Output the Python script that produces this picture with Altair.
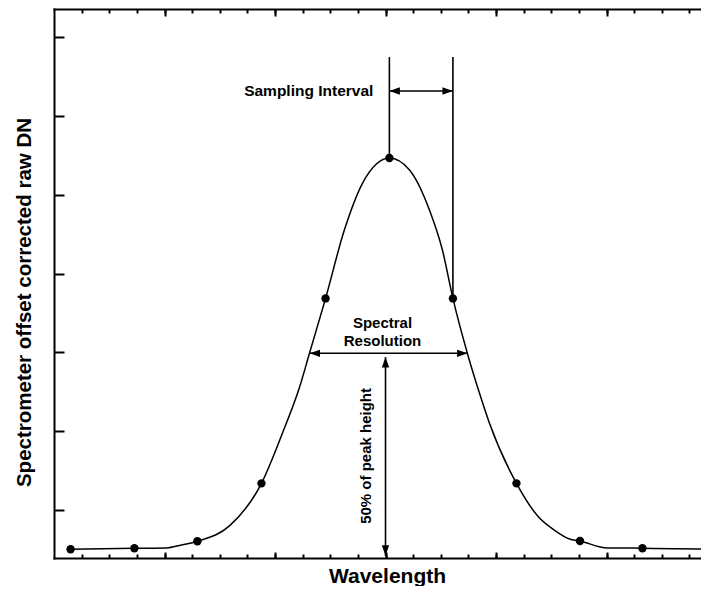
import altair as alt
import pandas as pd

FONT = "Liberation Sans"

# sampled spectrometer channels (dots)
sample_wl = [0.60, 2.91, 5.19, 7.51, 9.83, 12.14, 14.44, 16.74, 19.04, 21.30, 23.62]
sample_dn = [251, 257, 302, 669, 1842, 2733, 1842, 669, 303, 257, 253]

# continuous instrument response (line)
curve_wl = [0.60, 2.91, 4.07, 4.61, 5.19, 6.35, 7.51, 8.27, 8.89, 9.25, 9.83,
            10.51, 11.17, 11.67, 12.14, 12.87, 13.59, 14.06, 14.44, 14.97, 15.40,
            15.76, 16.74, 17.54, 18.11, 18.66, 19.04, 20.03, 21.01, 21.30, 23.62]
curve_dn = [251, 257, 259, 278, 302, 399, 669, 988, 1280, 1496, 1842,
            2276, 2574, 2695, 2733, 2657, 2403, 2149, 1842, 1490, 1242,
            1052, 669, 456, 373, 316, 303, 259, 259, 257, 253]

# annotation segments
seg_x = [12.14, 14.44, 12.14, 9.25, 12.00]
seg_x2 = [12.14, 14.44, 14.44, 14.97, 12.00]
seg_y = [2733, 1842, 3158, 1494, 1470]
seg_y2 = [3373, 3373, 3158, 1494, 210]

# arrow heads
RIGHT = "M0,0L-1,-0.35L-1,0.35Z"
LEFT = "M0,0L1,-0.35L1,0.35Z"
UP = "M0,0L-0.35,1L0.35,1Z"
DOWN = "M0,0L-0.35,-1L0.35,-1Z"
head_x = [12.14, 14.44, 9.25, 14.97, 12.00, 12.00]
head_y = [3158, 3158, 1494, 1494, 1470, 210]
head_shape = [LEFT, RIGHT, LEFT, RIGHT, UP, DOWN]

# axis ticks
minor_ticks = list(range(1, 24))
major_ticks = [4, 8, 12, 16, 20]
y_ticks = [500, 1000, 1500, 2000, 2500, 3000, 3500]

X_DOMAIN = [0, 23.42]
Y_DOMAIN = [195.5, 3678]

xs = alt.Scale(domain=X_DOMAIN, nice=False, zero=False)
ys = alt.Scale(domain=Y_DOMAIN, nice=False, zero=False)

curve_df = pd.DataFrame({"wl": curve_wl, "dn": curve_dn})
sample_df = pd.DataFrame({"wl": sample_wl, "dn": sample_dn})
seg_df = pd.DataFrame({"x": seg_x, "x2": seg_x2, "y": seg_y, "y2": seg_y2})
head_df = pd.DataFrame({"x": head_x, "y": head_y, "shape": head_shape})
txt1_df = pd.DataFrame({"x": [11.56], "y": [3158], "t": ["Sampling Interval"]})
txt2_df = pd.DataFrame({"x": [11.89, 11.89], "y": [1686, 1572], "t": ["Spectral", "Resolution"]})
txt3_df = pd.DataFrame({"x": [11.31], "y": [843], "t": ["50% of peak height"]})


def tick_axis(orient, values, size):
    return alt.Axis(orient=orient, values=values, tickSize=size, offset=-size,
                    tickWidth=2, tickColor="black", domain=False, labels=False,
                    grid=False, title=None)


def line_axis(orient):
    return alt.Axis(orient=orient, domain=True, domainColor="black", domainWidth=2,
                    domainCap="square", ticks=False, labels=False, grid=False, title=None)


x_main = alt.Axis(orient="bottom", domain=True, domainColor="black", domainWidth=2,
                  domainCap="square", ticks=False, labels=False, grid=False,
                  title="Wavelength", titleFont=FONT, titleFontSize=21,
                  titleFontWeight="bold", titleColor="black", titleX=333, titleY=24,
                  titleBaseline="alphabetic", titleAlign="center")
y_main = alt.Axis(orient="left", domain=True, domainColor="black", domainWidth=2,
                  domainCap="square", ticks=False, labels=False, grid=False,
                  title="Spectrometer offset corrected raw DN", titleFont=FONT,
                  titleFontSize=20.5, titleFontWeight="bold", titleColor="black",
                  titleAngle=270, titleX=-24, titleY=293,
                  titleBaseline="alphabetic", titleAlign="center")

curve = alt.Chart(curve_df).mark_line(color="black", strokeWidth=1.5, interpolate="monotone").encode(
    x=alt.X("wl:Q", scale=xs, axis=x_main),
    y=alt.Y("dn:Q", scale=ys, axis=y_main),
)

points = alt.Chart(sample_df).mark_circle(size=70, color="black", opacity=1).encode(
    x=alt.X("wl:Q", scale=xs, axis=tick_axis("bottom", minor_ticks, 4)),
    y=alt.Y("dn:Q", scale=ys, axis=tick_axis("left", y_ticks, 10)),
)

rules = alt.Chart(seg_df).mark_rule(color="black", strokeWidth=1.6).encode(
    x=alt.X("x:Q", scale=xs, axis=tick_axis("bottom", major_ticks, 6)),
    x2="x2:Q",
    y=alt.Y("y:Q", scale=ys, axis=None),
    y2="y2:Q",
)

heads = alt.Chart(head_df).mark_point(filled=True, size=440, color="black", opacity=1, strokeWidth=0).encode(
    x=alt.X("x:Q", scale=xs, axis=line_axis("top")),
    y=alt.Y("y:Q", scale=ys, axis=None),
    shape=alt.Shape("shape:N", scale=None),
)

txt1 = alt.Chart(txt1_df).mark_text(font=FONT, fontSize=15.5, fontWeight="bold", align="right",
                                    baseline="middle", color="black").encode(
    x=alt.X("x:Q", scale=xs, axis=tick_axis("top", minor_ticks, 4)),
    y=alt.Y("y:Q", scale=ys, axis=None),
    text="t:N",
)

txt2 = alt.Chart(txt2_df).mark_text(font=FONT, fontSize=15, fontWeight="bold", align="center",
                                    baseline="middle", color="black").encode(
    x=alt.X("x:Q", scale=xs, axis=tick_axis("top", major_ticks, 7)),
    y=alt.Y("y:Q", scale=ys, axis=None),
    text="t:N",
)

txt3 = alt.Chart(txt3_df).mark_text(font=FONT, fontSize=15, fontWeight="bold", align="center",
                                    baseline="middle", angle=270, color="black").encode(
    x=alt.X("x:Q", scale=xs, axis=None),
    y=alt.Y("y:Q", scale=ys, axis=None),
    text="t:N",
)

chart = alt.layer(curve, points, rules, heads, txt1, txt2, txt3).resolve_axis(
    x="independent", y="independent"
).properties(
    width=647, height=549,
    autosize=alt.AutoSizeParams(type="none"),
    padding={"left": 46, "top": 1, "right": 0, "bottom": 28},
    background="white",
).configure_view(strokeWidth=0)

chart.save("out.html", embed_options={"renderer": "svg", "actions": False})
